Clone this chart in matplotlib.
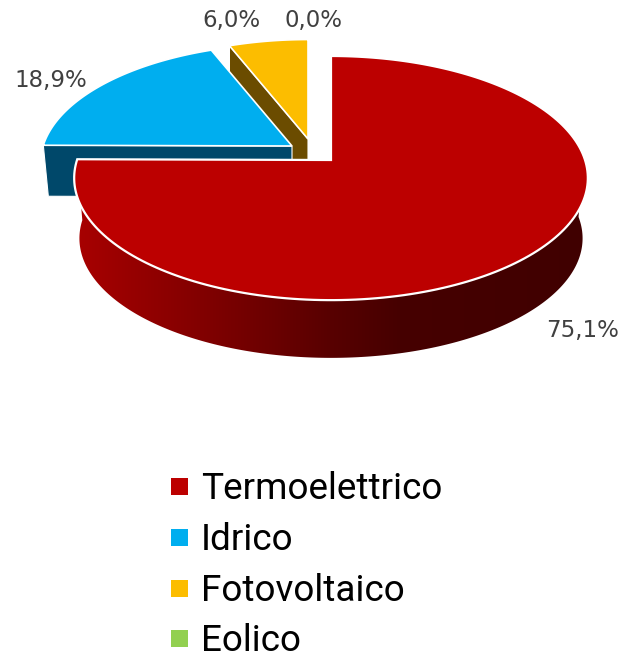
import numpy as np
import matplotlib
matplotlib.use("Agg")
import matplotlib.pyplot as plt
from matplotlib.patches import Polygon, Rectangle

categories = ["Termoelettrico", "Idrico", "Fotovoltaico", "Eolico"]
shares = [75.1, 18.9, 6.0, 0.0]
colors = ["#BC0000", "#00AEEF", "#FCBD00", "#92D050"]
wall_colors = [None, "#00486A", "#6B4C00", None]

# exploded slices: apex in pixels and radius scale
apexes = [(331, 160), (292, 146), (308, 139), (308, 139)]
scales = [1.0, 0.98, 0.95, 0.95]
label_pos = [(583, 331), (51, 81), (231, 20), (313, 20)]
legend_y = [486, 537, 588.5, 638.5]
legend_base = [499, 550, 601, 651]

# perspective of the pie plane
RX, RY, K = 254, 119.4, 0.148
DEPTH = 61
WALL_X = [75, 200, 330, 400, 590]
WALL_R = [168, 130, 88, 70, 64]


def project(apex, theta, r=1.0):
    x = r * np.cos(theta)
    y = r * np.sin(theta)
    w = 1 + K * y
    return apex[0] + RX * x / w, apex[1] - RY * y / w


def sector(apex, start, end, r):
    t = np.linspace(start, end, 200)
    px, py = project(apex, t, r)
    return np.vstack([[apex], np.column_stack([px, py])])


fig = plt.figure(figsize=(6.22, 6.53), dpi=100)
ax = fig.add_axes([0, 0, 1, 1])
ax.axis("off")

# slice angles, clockwise from 12 o'clock
ends = np.radians(90 - 360 * np.cumsum(shares) / sum(shares))
starts = np.concatenate([[np.radians(90)], ends[:-1]])

# back walls of the two small slices
for i, depth in [(2, 45), (1, 51)]:
    apex = apexes[i]
    edge_x, edge_y = project(apex, starts[i], scales[i])
    wall = [(edge_x, edge_y), apex, (apex[0], apex[1] + depth), (edge_x + 5 * (i == 1), edge_y + depth)]
    ax.add_patch(Polygon(wall, closed=True, fc=wall_colors[i], ec="white", lw=0.8, zorder=2))

# top faces of the small slices
for i in [2, 1]:
    pts = sector(apexes[i], starts[i], ends[i], scales[i])
    ax.add_patch(Polygon(pts, closed=True, fc=colors[i], ec="white", lw=1.2, joinstyle="miter", zorder=3))

# outer wall of the big slice: horizontal gradient clipped to the wall outline
t = np.linspace(ends[0], np.radians(2), 300)
top_x, top_y = project(apexes[0], t)
bot_x, bot_y = project(apexes[0], t, 0.98)
outline = np.vstack([np.column_stack([top_x, top_y]),
                     np.column_stack([bot_x, bot_y + DEPTH])[::-1]])
wall_patch = Polygon(outline, closed=True, fc="none", ec="none", transform=ax.transData)
ax.add_patch(wall_patch)
grad_x = np.arange(60, 600)
grad = np.zeros((1, grad_x.size, 3))
grad[0, :, 0] = np.interp(grad_x, WALL_X, WALL_R) / 255
img = ax.imshow(grad, extent=(60, 600, 400, 150), aspect="auto", interpolation="bilinear", zorder=4)
img.set_clip_path(wall_patch)

# top face of the big slice
pts = sector(apexes[0], starts[0], ends[0], 1.0)
ax.add_patch(Polygon(pts, closed=True, fc=colors[0], ec="white", lw=1.6, joinstyle="miter", zorder=5))

for share, (lx, ly) in zip(shares, label_pos):
    ax.text(lx, ly, f"{share:.1f}%".replace(".", ","), ha="center", va="center",
            fontsize=16.5, color="#404040", family="DejaVu Sans", zorder=6)

for name, color, y, base in zip(categories, colors, legend_y, legend_base):
    ax.add_patch(Rectangle((170.5, y - 8.5), 17, 17, fc=color, ec="none"))
    ax.text(201, base, name, ha="left", va="baseline", fontsize=26.6, color="black", family="Roboto")

ax.set_xlim(0, 622)
ax.set_ylim(653, 0)

fig.savefig("out.png", dpi=100)
plt.close(fig)
